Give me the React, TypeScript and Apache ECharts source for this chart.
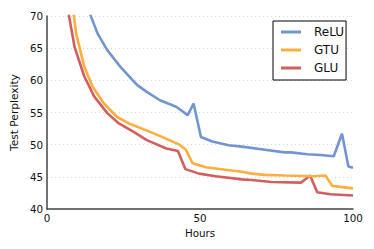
import React, { useEffect, useRef } from "react";
import * as echarts from "echarts";

const seriesNames = ["ReLU", "GTU", "GLU"];
const colors = ["#7095d2", "#fdae3c", "#d45e5e"];

const reluData: [number, number][] = [
  [11, 75], [14.4, 69.9], [16.5, 67.3], [19.7, 64.7], [24.0, 62.1], [29.4, 59.3],
  [32.6, 58.2], [36.9, 56.9], [42.2, 55.9], [46.0, 54.6], [47.9, 56.4],
  [50.3, 51.2], [54.0, 50.5], [59.4, 49.9], [63.7, 49.7], [70, 49.3],
  [77.6, 48.8], [79.7, 48.8], [85.1, 48.5], [89.4, 48.4], [93.7, 48.2],
  [96.4, 51.7], [98.5, 46.6], [100, 46.4],
];
const gtuData: [number, number][] = [
  [7.5, 74], [8.8, 70], [9.5, 67.3], [12.2, 62.1], [14.9, 59.0], [18.6, 56.4],
  [22.9, 54.3], [27.2, 53.2], [34.7, 51.8], [39.0, 50.9], [43.3, 50.0],
  [45.4, 49.2], [47.6, 47.1], [51.9, 46.5], [58.3, 46.1], [63.7, 45.8],
  [66.9, 45.5], [71.2, 45.3], [77.6, 45.2], [87.2, 45.1], [91.0, 45.2],
  [93.2, 43.6], [100, 43.2],
];
const gluData: [number, number][] = [
  [6, 74], [7.2, 70], [9, 65.2], [12.2, 60.6], [15.4, 57.5], [19.7, 54.9],
  [23.5, 53.3], [28.3, 52.0], [32.6, 50.7], [39.0, 49.4], [42.8, 49.0],
  [45.2, 46.2], [49.7, 45.5], [55.1, 45.1], [63.7, 44.6], [66.9, 44.5],
  [73.3, 44.2], [83.0, 44.1], [86.0, 45.2], [88.3, 42.6], [92.6, 42.3],
  [100, 42.1],
];
const allData = [reluData, gtuData, gluData];

const xTicks = [0, 50, 100];
const yMin = 40;
const yMax = 70;
const yStep = 5;

export default function App() {
  const ref = useRef<HTMLDivElement>(null);
  useEffect(() => {
    if (!ref.current) return;
    const chart = echarts.init(ref.current, null, { renderer: "svg" });
    const font = "DejaVu Sans";
    chart.setOption({
      animation: false,
      backgroundColor: "#fff",
      textStyle: { fontFamily: font },
      grid: { left: 42, right: 21, top: 16, bottom: 40 },
      legend: {
        data: seriesNames,
        orient: "vertical",
        left: 273,
        top: 21,
        width: 75,
        backgroundColor: "#fff",
        borderColor: "#000",
        borderWidth: 1,
        borderRadius: 0,
        padding: [4, 2, 5, 8],
        itemGap: 4,
        itemWidth: 20,
        itemHeight: 3,
        icon: "rect",
        textStyle: { fontFamily: font, fontSize: 12, color: "#111", padding: [0, 0, 0, 8], lineHeight: 14 },
      },
      xAxis: {
        type: "value",
        min: 0,
        max: 100,
        interval: 50,
        name: "Hours",
        nameLocation: "middle",
        nameGap: 16,
        nameTextStyle: { fontFamily: font, fontSize: 10.3, color: "#111" },
        axisLine: { show: true, lineStyle: { color: "#444", width: 1.5 } },
        axisTick: { show: false },
        axisLabel: {
          fontFamily: font, fontSize: 10.3, color: "#111", margin: 4,
          formatter: (v: number) => (xTicks.includes(v) ? String(v) : ""),
        },
        splitLine: { show: false },
      },
      yAxis: {
        type: "value",
        min: yMin,
        max: yMax,
        interval: yStep,
        name: "Test Perplexity",
        nameLocation: "middle",
        nameGap: 21,
        nameRotate: 90,
        nameTextStyle: { fontFamily: font, fontSize: 10.6, color: "#111" },
        axisLine: { show: true, lineStyle: { color: "#444", width: 1.5 } },
        axisTick: { show: false },
        axisLabel: { fontFamily: font, fontSize: 10.3, color: "#111", margin: 4 },
        splitLine: { show: true, lineStyle: { color: "#d8d8d8", type: [1, 3], width: 1 } },
      },
      series: seriesNames.map((name, i) => ({
        name,
        type: "line",
        data: allData[i],
        showSymbol: false,
        symbol: "none",
        clip: true,
        color: colors[i],
        lineStyle: { color: colors[i], width: 2.6 },
        z: 3 - i,
      })),
    });
    return () => chart.dispose();
  }, []);
  return <div ref={ref} style={{ width: 374, height: 249, margin: -8 }} />;
}
